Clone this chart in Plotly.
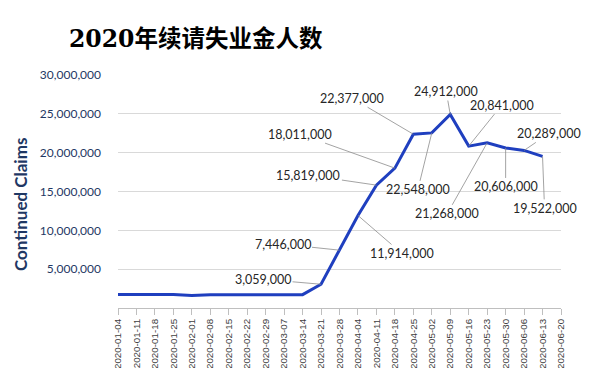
import plotly.graph_objects as go

weeks = ["2020-01-04","2020-01-11","2020-01-18","2020-01-25","2020-02-01","2020-02-08",
         "2020-02-15","2020-02-22","2020-02-29","2020-03-07","2020-03-14","2020-03-21",
         "2020-03-28","2020-04-04","2020-04-11","2020-04-18","2020-04-25","2020-05-02",
         "2020-05-09","2020-05-16","2020-05-23","2020-05-30","2020-06-06","2020-06-13",
         "2020-06-20"]
claims = [1750000,1750000,1750000,1750000,1620000,1720000,1720000,1720000,1720000,
          1720000,1720000,3059000,7446000,11914000,15819000,18011000,22377000,22548000,
          24912000,20841000,21268000,20606000,20289000,19522000,None]

# labelled points: (index, text offset x, text offset y) in pixels
label_idx = [11, 12, 13, 14, 15, 16, 17, 18, 19, 20, 21, 22, 23]
label_ax = [-58, -57, 44, -68, -95, -61, -14, -4, 33, -40, 0, 25, 2]
label_ay = [-5, -6, 38, -10, -34, -36, 57, -23, -41, 71, 39, -17, 52]

yticks = [5000000, 10000000, 15000000, 20000000, 25000000, 30000000]

# page body has an 8px margin, so the figure is drawn 8px smaller and offset
W, H = 590, 360
L, R, T, B = 110, 37, 67, 60
pw, ph = W - L - R, H - T - B

fig = go.Figure()
fig.add_trace(go.Scatter(x=weeks, y=claims, mode="lines",
                         line=dict(color="#1F3FBF", width=3), hoverinfo="skip"))

for i, ax, ay in zip(label_idx, label_ax, label_ay):
    fig.add_annotation(x=weeks[i], y=claims[i], text=f"{claims[i]:,}",
                       showarrow=True, arrowhead=0, arrowwidth=0.8, arrowcolor="#8C8C8C",
                       ax=ax, ay=ay, standoff=0,
                       font=dict(family="Lato, Open Sans, sans-serif", size=12.5, color="#262626"))

fig.add_annotation(text="<b>Continued Claims</b>", xref="paper", yref="paper",
                   x=(12 - L) / pw, y=(H - B - 197) / ph, xanchor="center", yanchor="middle",
                   textangle=-90, showarrow=False,
                   font=dict(family="Lato, Open Sans, sans-serif", size=17, color="#1F3864"))

fig.update_layout(
    width=W, height=H,
    margin=dict(l=L, r=R, t=T, b=B, autoexpand=False),
    paper_bgcolor="white", plot_bgcolor="white",
    showlegend=False,
    title=dict(text="<b>2020年续请失业金人数</b>", xref="container", yref="container",
               x=61/W, xanchor="left", y=1-31/H, yanchor="middle",
               font=dict(family="DejaVu Serif, Liberation Serif, Noto Sans CJK SC, serif", size=23.5, color="#000000")),
    xaxis=dict(type="category", range=[0, 24], tickangle=-90, automargin=False,
               showline=True, linecolor="#BFBFBF", linewidth=1,
               ticks="outside", ticklen=6, tickcolor="#BFBFBF",
               showgrid=False,
               tickfont=dict(family="Liberation Sans, Arial, sans-serif", size=9.8, color="#404040")),
    yaxis=dict(range=[0, 30000000], tickvals=yticks, automargin=False,
               ticktext=[f"{v:,}" for v in yticks],
               showgrid=True, gridcolor="#D9D9D9", gridwidth=1,
               zeroline=False, showline=False, ticks="", ticklabelstandoff=16,
               tickfont=dict(family="Lato, Open Sans, sans-serif", size=12, color="#1F3864")),
)

fig.write_html("out.html")
